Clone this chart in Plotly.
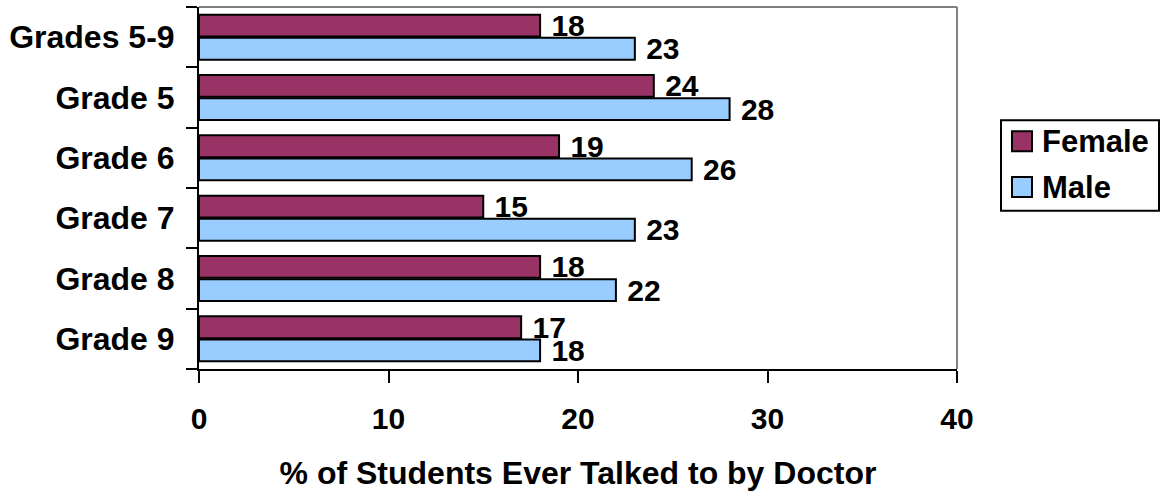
import plotly.graph_objects as go

categories = ["Grades 5-9", "Grade 5", "Grade 6", "Grade 7", "Grade 8", "Grade 9"]
female = [18, 24, 19, 15, 18, 17]
male = [23, 28, 26, 23, 22, 18]
x_ticks = [0, 10, 20, 30, 40]
series_names = ["Female", "Male"]
series_colors = ["#993366", "#99CCFF"]

FONT = "Arial, Liberation Sans, sans-serif"
W, H = 1162, 492
ML, MR, MT, MB = 199, 205, 7, 121
PW, PH = W - ML - MR, H - MT - MB


def px(x):
    return (x - ML) / PW


def py(y):
    return (H - MB - y) / PH


fig = go.Figure()
for name, vals, col in zip(series_names, [female, male], series_colors):
    fig.add_trace(go.Bar(
        y=categories, x=vals, name=name, orientation="h", showlegend=False,
        marker=dict(color=col, line=dict(color="black", width=2)),
        text=[f" {v}" for v in vals], textposition="outside",
        constraintext="none",
        textfont=dict(family=FONT, size=30, color="black", weight="bold"),
        cliponaxis=False,
    ))

fig.update_layout(
    width=W, height=H,
    margin=dict(l=ML, r=MR, t=MT, b=MB),
    paper_bgcolor="white", plot_bgcolor="white",
    barmode="group", bargap=0.23, bargroupgap=0.06,
    font=dict(family=FONT, size=30, color="black"),
    showlegend=False,
)
fig.update_xaxes(
    range=[0, 40], tickvals=x_ticks, ticktext=[f"<b>{t}</b>" for t in x_ticks],
    showgrid=False, zeroline=False,
    showline=True, linecolor="black", linewidth=2,
    ticks="outside", ticklen=12, tickwidth=2, tickcolor="black",
    tickfont=dict(family=FONT, size=30, color="black"),
    ticklabelstandoff=10,
    title=dict(text="<b>% of Students Ever Talked to by Doctor</b>",
               font=dict(family=FONT, size=32, color="black"), standoff=28),
)
fig.update_yaxes(
    autorange="reversed", type="category",
    tickvals=categories, ticktext=[f"<b>{c}</b>" for c in categories],
    showgrid=False, zeroline=False,
    showline=True, linecolor="black", linewidth=2,
    ticks="outside", tickson="boundaries", ticklen=11, tickwidth=2, tickcolor="black",
    tickfont=dict(family=FONT, size=32, color="black"),
    ticklabelstandoff=16,
)
# gray top and right border of plot area
fig.add_shape(type="line", xref="x domain", yref="y domain", x0=0, x1=1, y0=1, y1=1,
              line=dict(color="#808080", width=2))
fig.add_shape(type="line", xref="x domain", yref="y domain", x0=1, x1=1, y0=0, y1=1,
              line=dict(color="#808080", width=2))

# legend (drawn to match the original's box and swatch sizes)
fig.add_shape(type="rect", xref="paper", yref="paper",
              x0=px(1001), x1=px(1159), y0=py(212), y1=py(121),
              line=dict(color="black", width=2), fillcolor="white")
row_centers = [142, 188]
for name, col, cy in zip(series_names, series_colors, row_centers):
    fig.add_shape(type="rect", xref="paper", yref="paper",
                  x0=px(1012), x1=px(1032), y0=py(cy + 10), y1=py(cy - 10),
                  line=dict(color="black", width=2), fillcolor=col)
    fig.add_annotation(xref="paper", yref="paper", x=px(1040), y=py(cy),
                       xanchor="left", yanchor="middle", showarrow=False,
                       text=f"<b>{name}</b>",
                       font=dict(family=FONT, size=31, color="black"))

fig.write_html("out.html")
